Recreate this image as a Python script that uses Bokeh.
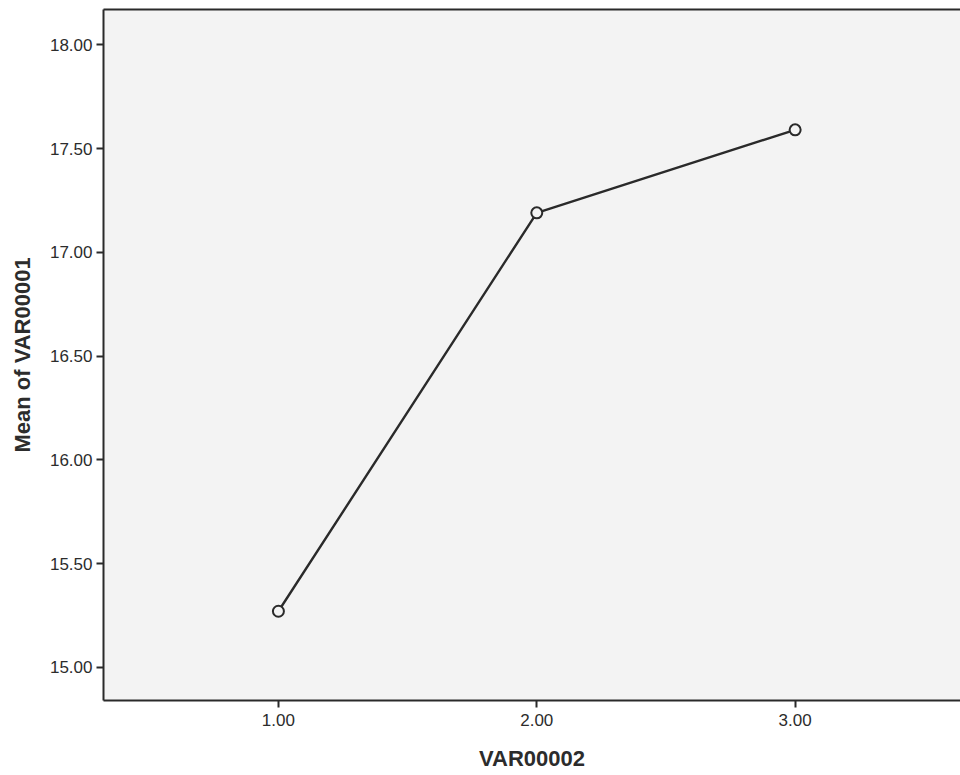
from bokeh.plotting import figure
from bokeh.models import LinearAxis, FixedTicker, Range1d, CustomJSTickFormatter
from bokeh.embed import file_html
from bokeh.resources import INLINE

# Data
groups = [1.0, 2.0, 3.0]
means = [15.27, 17.19, 17.59]
x_ticks = [1.0, 2.0, 3.0]
y_ticks = [15.0, 15.5, 16.0, 16.5, 17.0, 17.5, 18.0]
x_label = "VAR00002"
y_label = "Mean of VAR00001"

BG = "#f3f3f3"
INK = "#2a2a2a"
FONT = "Liberation Sans"

p = figure(width=960, height=775, output_backend="svg", toolbar_location=None,
           x_range=Range1d(0.323, 3.64), y_range=Range1d(14.84, 18.17),
           x_axis_type=None, y_axis_type=None,
           min_border_left=103, min_border_right=0, min_border_top=9, min_border_bottom=75)
p.background_fill_color = BG
p.border_fill_color = "white"
p.outline_line_color = None
p.xgrid.visible = False
p.ygrid.visible = False

fmt = CustomJSTickFormatter(code="return tick.toFixed(2);")

xa = LinearAxis(ticker=FixedTicker(ticks=x_ticks), formatter=fmt, axis_label=x_label)
ya = LinearAxis(ticker=FixedTicker(ticks=y_ticks), formatter=fmt, axis_label=y_label)
for ax in (xa, ya):
    ax.axis_line_color = INK
    ax.axis_line_width = 2
    ax.major_tick_line_color = INK
    ax.major_tick_line_width = 2
    ax.major_tick_out = 7
    ax.major_tick_in = 0
    ax.minor_tick_line_color = None
    ax.major_label_text_font = FONT
    ax.major_label_text_font_size = "17px"
    ax.major_label_text_color = "#2c2c2c"
    ax.axis_label_text_font = FONT
    ax.axis_label_text_font_style = "bold"
    ax.axis_label_text_font_size = "22px"
    ax.axis_label_text_color = "#2c2c2c"
xa.major_label_standoff = 6
xa.axis_label_standoff = 17
ya.major_label_standoff = 4
ya.axis_label_standoff = 12
p.add_layout(xa, "below")
p.add_layout(ya, "left")

top = LinearAxis(ticker=FixedTicker(ticks=[]), axis_line_color=INK, axis_line_width=2,
                 major_tick_line_color=None, minor_tick_line_color=None,
                 major_label_text_font_size="0px")
p.add_layout(top, "above")

p.line(groups, means, line_color=INK, line_width=2.4)
p.scatter(groups, means, size=11, marker="circle", line_color=INK, line_width=2,
          fill_color=BG)

open("out.html", "w").write(file_html(p, INLINE))
